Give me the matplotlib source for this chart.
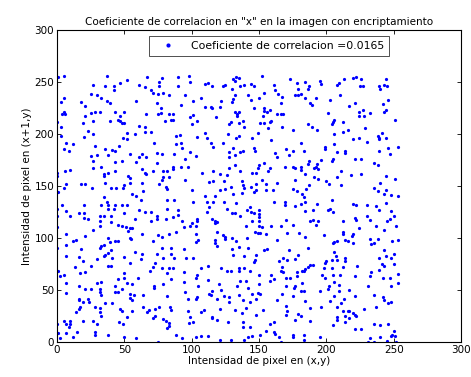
import matplotlib

matplotlib.use("Agg")
import matplotlib.pyplot as plt
import numpy as np

TITLE = 'Coeficiente de correlacion en "x" en la imagen con encriptamiento'
LEGEND = "Coeficiente de correlacion =0.0165"
XLABEL = "Intensidad de pixel en (x,y)"
YLABEL = "Intensidad de pixel en (x+1,y)"
TICKS = [0, 50, 100, 150, 200, 250, 300]

# pixel pairs (x, x+1), block by block
block_a = [(1,255),(5,256),(37,256),(67,255),(78,254),(76,250),(76,246),(52,252),(47,249),(42,246),(42,242),(36,246),(27,247),(61,247),(65,245),(70,242),(71,240),(75,239),(79,240),(83,238),(25,239),(30,238),(33,235),(37,232),(39,230),(5,235),(3,231),(18,231),(21,227),(59,232),(74,230),(77,225),(5,221),(4,219),(6,219),(25,220),(28,221),(32,221),(21,217),(43,221),(50,221),(47,217),(66,219),(75,219),(77,220),(83,219),(0,212),(19,211),(27,213),(39,213),(45,214),(47,213),(48,211),(50,211),(80,213),(85,214),(3,207),(23,203),(27,200),(52,201),(58,200),(61,208),(65,207),(65,202),(70,202),(3,198),(20,197),(49,196),(52,195)]
block_b = [(90,255),(98,256),(90,246),(99,250),(110,248),(112,249),(115,246),(123,246),(125,247),(131,253),(133,255),(135,254),(132,251),(136,246),(139,247),(130,243),(144,248),(146,246),(152,256),(161,247),(162,242),(164,239),(95,238),(107,235),(101,232),(92,228),(110,226),(114,226),(115,225),(121,226),(122,232),(130,231),(131,234),(132,238),(142,238),(144,233),(150,235),(154,240),(167,236),(166,230),(146,225),(154,225),(154,222),(158,223),(156,221),(132,221),(134,219),(135,221),(134,217),(118,216),(101,218),(99,216),(104,213),(100,210),(86,219),(86,214),(129,212),(128,210),(135,211),(138,213),(139,207),(153,217),(151,211),(154,211),(158,212),(159,213),(163,219),(166,219),(168,219),(167,207),(157,206),(149,201),(145,196),(127,200),(133,196),(135,198),(110,201),(111,196),(104,197),(88,198),(91,199)]
block_c = [(173,253),(178,249),(184,250),(195,251),(196,248),(213,253),(220,254),(222,255),(226,253),(225,246),(227,246),(208,247),(209,249),(244,253),(239,246),(240,243),(243,247),(245,246),(179,243),(181,239),(179,238),(177,238),(186,243),(187,246),(184,235),(188,230),(189,228),(192,235),(203,233),(210,238),(217,227),(221,230),(224,221),(227,223),(224,217),(228,217),(232,220),(242,229),(246,233),(244,223),(243,221),(251,214),(201,220),(206,214),(205,212),(204,210),(212,212),(175,204),(186,210),(189,207),(193,204),(206,200),(212,202),(216,204),(229,206),(238,198),(239,196),(241,201),(244,196)]
block_d = [(7,191),(12,190),(5,186),(9,184),(28,189),(36,186),(41,185),(43,184),(46,189),(30,180),(25,179),(27,174),(38,180),(43,173),(48,174),(54,181),(63,181),(61,178),(66,178),(59,173),(72,191),(74,182),(78,181),(74,172),(33,168),(27,167),(0,163),(6,164),(10,165),(35,162),(35,160),(38,163),(43,164),(53,160),(54,158),(63,166),(65,163),(66,162),(71,164),(79,164),(82,164),(83,159),(79,159),(78,156),(76,152),(81,149),(82,147),(0,160),(7,152),(5,148),(18,152),(21,152),(26,148),(36,153),(40,148),(44,148),(49,148),(50,151),(54,153),(63,153),(64,145),(1,144),(35,139),(56,142),(59,140),(62,137),(82,137),(4,132),(20,132),(33,132),(37,135),(38,132),(43,132),(48,132),(52,132)]
block_e = [(88,190),(92,191),(93,187),(87,181),(95,176),(99,183),(103,179),(114,191),(116,188),(123,191),(131,187),(128,183),(128,178),(132,180),(136,183),(138,184),(146,187),(147,184),(159,194),(162,182),(163,178),(170,186),(86,168),(86,166),(92,168),(97,168),(108,163),(116,164),(121,162),(126,161),(128,167),(132,170),(136,164),(145,163),(148,163),(149,167),(150,170),(154,172),(158,167),(157,164),(169,168),(95,156),(113,154),(116,155),(124,155),(137,155),(138,151),(139,148),(129,149),(125,147),(121,146),(100,146),(144,149),(148,152),(152,156),(155,152),(163,153),(160,146),(155,146),(148,146),(146,144),(137,143),(131,142),(87,137),(101,135),(110,140),(111,135),(116,135),(117,140),(124,135),(133,134),(161,135),(169,135),(169,132)]
block_f = [(181,191),(175,184),(172,180),(183,184),(199,188),(199,186),(206,190),(208,183),(214,184),(214,182),(220,195),(224,196),(230,192),(239,195),(239,184),(246,187),(247,181),(253,188),(196,175),(193,171),(194,166),(191,167),(192,168),(187,174),(186,171),(181,168),(181,165),(177,167),(175,168),(205,176),(204,174),(221,176),(226,176),(235,172),(238,170),(184,162),(191,159),(194,157),(211,164),(208,159),(218,161),(226,162),(244,160),(251,157),(177,156),(200,155),(202,152),(211,151),(240,153),(175,147),(178,145),(185,147),(187,151),(182,142),(183,139),(184,135),(181,133),(177,131),(193,133),(204,137),(235,148),(238,145),(244,146),(243,142),(248,141),(253,140),(244,134),(220,133),(222,132),(230,132),(237,131)]
block_g = [(0,128),(7,126),(16,124),(20,124),(10,121),(0,121),(20,119),(23,118),(32,121),(32,116),(35,121),(38,128),(42,128),(50,124),(40,121),(40,115),(45,113),(48,112),(51,111),(54,110),(56,110),(53,107),(32,112),(27,108),(58,118),(61,127),(65,125),(70,125),(82,128),(70,116),(74,121),(74,118),(81,118),(0,111),(7,104),(21,102),(12,97),(14,98),(0,90),(7,93),(18,89),(38,100),(39,96),(43,97),(45,97),(54,100),(55,99),(33,92),(32,90),(35,93),(63,104),(71,97),(75,103),(78,101),(83,104),(78,90),(58,87),(63,85),(62,80),(50,82),(36,84),(38,86),(40,88),(35,83),(41,81),(30,80),(7,83),(16,82),(19,78),(25,73),(38,73),(40,73),(54,76),(13,72),(1,68),(74,85),(79,81),(85,85),(73,76),(71,72),(69,68),(78,71),(83,71),(17,66),(21,67),(50,66),(82,66)]
block_h = [(90,127),(90,122),(86,120),(93,116),(94,111),(99,112),(100,114),(103,112),(104,118),(104,116),(111,125),(115,118),(117,116),(117,114),(119,115),(126,128),(130,124),(132,124),(136,121),(141,127),(144,125),(146,124),(150,127),(150,123),(150,120),(150,116),(145,116),(140,112),(150,112),(152,111),(159,112),(166,112),(170,117),(143,130),(113,130),(88,106),(103,104),(119,106),(123,103),(125,101),(125,99),(130,100),(133,97),(141,100),(147,106),(149,105),(151,105),(155,104),(103,96),(105,98),(117,98),(117,95),(119,92),(163,98),(171,105),(85,90),(94,89),(87,81),(96,81),(101,81),(130,89),(131,84),(135,91),(142,90),(139,83),(148,84),(154,88),(156,89),(146,77),(147,79),(165,78),(168,81),(171,79),(86,71),(107,71),(112,73),(122,71),(126,68),(129,68),(135,71),(135,68),(139,71),(143,68),(167,72),(166,68),(94,67),(168,67)]
block_i = [(184,126),(190,127),(201,127),(203,128),(205,125),(239,127),(248,126),(230,121),(232,117),(221,119),(222,117),(212,116),(188,116),(190,117),(194,116),(192,113),(175,113),(245,116),(247,118),(250,121),(237,112),(243,108),(252,112),(224,110),(212,106),(212,104),(220,104),(219,102),(214,98),(216,97),(220,95),(208,97),(206,96),(205,95),(198,103),(180,105),(184,101),(232,99),(238,99),(235,95),(233,94),(249,97),(253,98),(186,90),(172,88),(179,84),(177,80),(206,87),(207,83),(208,79),(214,81),(214,78),(204,79),(200,78),(199,76),(188,74),(190,74),(186,72),(184,70),(182,68),(183,68),(178,67),(198,71),(204,71),(212,72),(223,73),(243,88),(244,83),(250,85),(239,81),(248,81),(241,75),(243,73),(250,75),(239,69),(233,67)]
block_j = [(2,63),(5,64),(7,57),(7,47),(16,54),(21,51),(25,51),(30,57),(33,58),(32,51),(32,48),(33,45),(45,61),(50,62),(52,57),(56,56),(60,62),(43,54),(48,51),(43,48),(45,48),(54,46),(57,45),(54,42),(56,40),(64,45),(72,54),(72,52),(79,56),(82,44),(16,41),(16,40),(19,38),(23,41),(24,38),(17,34),(16,32),(14,29),(28,34),(32,33),(36,37),(41,37),(32,29),(33,25),(47,32),(48,30),(56,30),(52,24),(64,34),(68,31),(67,29),(73,32),(76,34),(84,34),(71,23),(73,25),(79,22),(81,20),(83,18),(83,15),(82,13),(5,20),(0,17),(7,17),(10,20),(10,17),(9,14),(19,20),(27,20),(30,17),(46,19),(49,17),(1,9),(2,4),(7,9),(12,5),(15,10),(28,10),(28,7),(38,7),(50,5),(59,4),(75,0)]
block_k = [(85,61),(94,58),(104,64),(103,62),(112,60),(120,56),(136,59),(140,59),(150,64),(150,56),(159,64),(158,59),(161,61),(170,62),(170,54),(105,54),(95,48),(104,43),(103,41),(97,41),(113,46),(115,49),(114,45),(122,50),(119,41),(124,44),(128,43),(128,38),(134,54),(142,52),(135,45),(138,40),(143,38),(145,46),(149,47),(148,41),(151,46),(163,40),(167,46),(85,31),(97,30),(107,29),(109,31),(121,32),(132,31),(140,33),(137,28),(153,31),(148,26),(170,35),(171,30),(170,26),(99,24),(98,18),(101,19),(115,24),(115,23),(119,21),(127,19),(138,19),(138,14),(143,14),(158,17),(161,19),(161,10),(162,8),(155,11),(165,5),(166,0),(88,7),(93,4),(103,5),(107,6),(112,6),(121,2),(129,2),(139,2),(142,5),(145,6),(151,7)]
block_l = [(173,62),(178,63),(197,64),(199,62),(205,64),(210,64),(221,63),(232,63),(242,62),(247,62),(253,65),(253,57),(182,57),(177,54),(176,52),(181,49),(183,49),(175,44),(184,39),(195,49),(202,54),(201,51),(206,58),(209,55),(209,49),(206,44),(203,39),(213,41),(211,37),(217,50),(221,44),(231,54),(235,45),(242,43),(243,40),(246,37),(248,38),(248,54),(237,34),(228,32),(208,34),(212,30),(216,30),(217,30),(220,28),(222,25),(221,26),(214,25),(217,23),(208,24),(208,21),(214,19),(205,16),(188,33),(196,34),(179,27),(181,25),(177,21),(188,20),(221,12),(226,12),(235,17),(240,16),(246,17),(250,11),(249,7),(251,6),(248,6),(232,4),(231,0),(235,0),(240,5),(245,1),(252,0),(175,7),(175,5),(183,7),(183,2),(195,5)]

blocks = [block_a, block_b, block_c, block_d, block_e, block_f,
          block_g, block_h, block_i, block_j, block_k, block_l]
pairs = np.array([p for b in blocks for p in b], dtype=float)
x_px, y_px = pairs[:, 0], pairs[:, 1]

plt.rcParams["font.family"] = "DejaVu Sans"
fig = plt.figure(figsize=(4.71, 3.77), dpi=100)
ax = fig.add_axes([0.121, 0.093, 0.858, 0.827])

ax.plot(x_px, y_px, "o", color="#0000ff", ms=2.3, mew=0, label=LEGEND)

ax.set_xlim(0, 300)
ax.set_ylim(0, 300)
ax.set_xticks(TICKS)
ax.set_yticks(TICKS)
ax.tick_params(direction="in", top=True, right=True, labelsize=7.5,
               length=3, width=0.6, pad=2)
for s in ax.spines.values():
    s.set_linewidth(0.8)

ax.set_title(TITLE, fontsize=7.5, pad=4)
ax.set_xlabel(XLABEL, fontsize=7.5, labelpad=1)
ax.set_ylabel(YLABEL, fontsize=7.5, labelpad=2)

leg = ax.legend(loc="upper center", bbox_to_anchor=(0.525, 0.988),
                fontsize=7.8, frameon=True, fancybox=False, borderpad=0.45,
                handlelength=2.6, handletextpad=0.8, markerscale=1.3,
                borderaxespad=0.2)
leg.get_frame().set_edgecolor("black")
leg.get_frame().set_linewidth(0.6)

fig.savefig("out.png", dpi=100)
